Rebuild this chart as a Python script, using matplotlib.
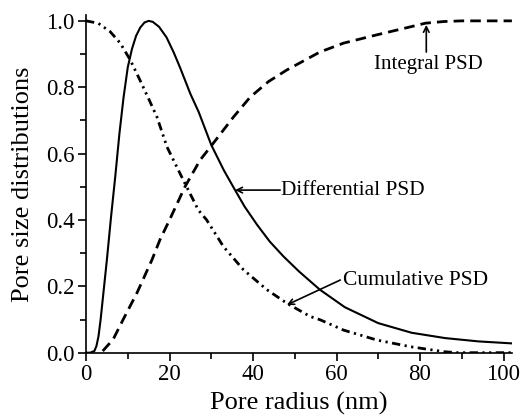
import matplotlib
matplotlib.use("Agg")
import matplotlib.pyplot as plt
from matplotlib.ticker import MultipleLocator

plt.rcParams['font.family'] = ['Liberation Serif', 'DejaVu Serif']

# Differential PSD (solid)
diff_x = [0, 1, 2, 2.5, 3, 3.5, 4, 5, 6, 7, 8, 9, 10, 11, 12, 13, 14, 15,
          16, 17.5, 19.3, 21, 22.5, 25, 27, 30, 33, 35.7, 38, 41, 44, 47.3, 51, 56, 62, 70, 78, 86, 94, 102]
diff_y = [0, 0, 0.005, 0.02, 0.05, 0.10, 0.16, 0.28, 0.41, 0.53, 0.66, 0.77, 0.86, 0.915, 0.955, 0.98, 0.995, 1.0,
          0.997, 0.982, 0.95, 0.905, 0.86, 0.78, 0.725, 0.626, 0.55, 0.49, 0.44, 0.385, 0.335, 0.29, 0.245, 0.19, 0.137, 0.089, 0.060, 0.044, 0.034, 0.028]

# Integral PSD (dashed)
int_x = [4, 6.5, 8.9, 12.2, 15.8, 17.7, 20, 23.7, 27.3, 30.1, 35.3, 39.3, 43.7, 48.1, 52.5, 56, 61.7, 69.7, 77.7, 81.3, 85.7, 90, 102]
int_y = [0.005, 0.04, 0.10, 0.18, 0.28, 0.34, 0.40, 0.50, 0.58, 0.625, 0.71, 0.77, 0.817, 0.852, 0.882, 0.906, 0.933, 0.958, 0.982, 0.993, 0.998, 1.0, 1.0]

# Cumulative PSD (dash-dot-dot)
cum_x = [0, 2.9, 5.75, 8.2, 10.6, 12.9, 15.3, 17, 19.4, 23.3, 26.9, 28.9, 32.9, 37.7, 43.3, 48.1, 53.7, 56.1, 61.7, 69.7, 77.7, 85.7, 89, 102]
cum_y = [1.0, 0.993, 0.968, 0.933, 0.882, 0.822, 0.757, 0.71, 0.62, 0.52, 0.43, 0.40, 0.32, 0.25, 0.19, 0.149, 0.109, 0.099, 0.068, 0.038, 0.018, 0.003, 0.0, 0.0]

yticks = [0, 0.2, 0.4, 0.6, 0.8, 1.0]
ytick_labels = ['0.0', '0.2', '0.4', '0.6', '0.8', '1.0']

fig = plt.figure(figsize=(5.2, 4.16), dpi=100)
ax = fig.add_axes([0.1654, 0.1522, 0.819, 0.812])

ax.plot(diff_x, diff_y, color='black', lw=1.5, linestyle='-')
ax.plot(int_x, int_y, color='black', lw=2.0, linestyle=(0, (3.8, 2.2)))
ax.plot(cum_x, cum_y, color='black', lw=2.0, linestyle=(0, (3.0, 1.6, 0.8, 1.6, 0.8, 1.6)))

ax.set_xlim(0, 102)
ax.set_ylim(0, 1.018)
ax.xaxis.set_major_locator(MultipleLocator(20))
ax.xaxis.set_minor_locator(MultipleLocator(10))
ax.yaxis.set_minor_locator(MultipleLocator(0.1))
ax.set_yticks(yticks)
ax.set_yticklabels(ytick_labels)

for s in ['top', 'right']:
    ax.spines[s].set_visible(False)
for s in ['left', 'bottom']:
    ax.spines[s].set_linewidth(1.2)
ax.tick_params(which='major', direction='out', length=6, width=1.2, labelsize=16.5, pad=2)
ax.tick_params(which='minor', direction='out', length=4, width=1.2)

ax.set_xlabel('Pore radius (nm)', fontsize=19, labelpad=5)
ax.set_ylabel('Pore size distributions', fontsize=19, labelpad=9)

arrow = dict(arrowstyle='->', color='black', lw=1.2, shrinkA=0, shrinkB=0)
ax.annotate('', xy=(81.5, 0.988), xytext=(81.5, 0.906), arrowprops=arrow)
ax.text(81.9, 0.87, 'Integral PSD', fontsize=15, ha='center', va='center')

ax.annotate('', xy=(35.7, 0.49), xytext=(46.5, 0.49), arrowprops=arrow)
ax.text(46.6, 0.49, 'Differential PSD', fontsize=15.3, ha='left', va='center')

ax.annotate('', xy=(48.1, 0.144), xytext=(60.9, 0.219), arrowprops=arrow)
ax.text(61.6, 0.219, 'Cumulative PSD', fontsize=15.5, ha='left', va='center')

fig.savefig('out.png', dpi=100)
